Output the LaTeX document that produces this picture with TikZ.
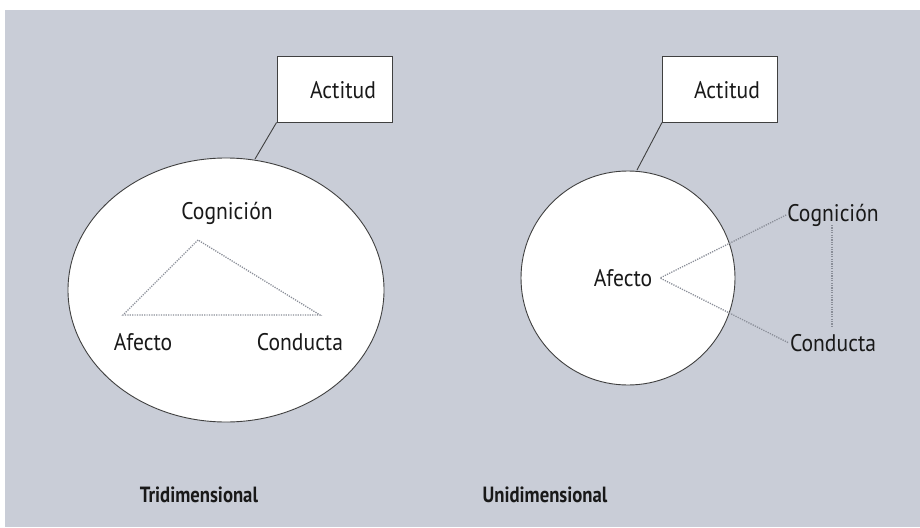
\documentclass[tikz,border=0pt]{standalone}
\usepackage{fontspec}
\setmainfont[FakeStretch=0.9]{PT Sans}
\newfontfamily\titlefont[FakeStretch=0.85]{PT Sans}
\definecolor{bggray}{HTML}{C9CDD7}
\definecolor{dotgray}{HTML}{8A8E98}
\begin{document}
\begin{tikzpicture}[x=1pt,y=-1pt,
  box/.style={draw=black!75,fill=white,line width=0.9pt,minimum width=115pt,minimum height=66pt,inner sep=0pt},
  lbl/.style={font=\fontsize{24}{28}\selectfont,text=black!90,inner sep=1pt},
  title/.style={font=\titlefont\fontsize{22}{26}\selectfont\bfseries,text=black!90},
  link/.style={draw=black!75,line width=0.9pt},
  dots/.style={draw=dotgray,dash pattern=on 1.2pt off 1.2pt,line width=1.3pt}]
\useasboundingbox (0,0) rectangle (920,527);
\fill[white] (0,0) rectangle (920,527);
\fill[bggray] (5,10) rectangle (920,527);
% left
\node[box] (boxL) at (334.5,89) {};
\node[lbl] (actL) at (343,90) {Actitud};
\draw[link,fill=white] (226,290) ellipse [x radius=158,y radius=132];
\coordinate (eL) at (255,159);
\draw[link] (boxL.south west) -- (eL);
\node[lbl] (cogL) at (227,213) {Cognición};
\node[lbl] (afeL) at (143,342) {Afecto};
\node[lbl] (conL) at (300,342) {Conducta};
\coordinate (tA) at (198,240);
\coordinate (tL) at (123,315);
\coordinate (tR) at (320,315);
\draw[dots] (tA) -- (tL) -- (tR) -- cycle;
% right
\node[box] (boxR) at (720,89) {};
\node[lbl] (actR) at (727,90) {Actitud};
\draw[link,fill=white] (628,278) circle [radius=107];
\coordinate (eR) at (637,170);
\draw[link] (boxR.south west) -- (eR);
\node[lbl] (afeR) at (623,278) {Afecto};
\node[lbl] (cogR) at (833,215) {Cognición};
\node[lbl] (conR) at (833,343) {Conducta};
\coordinate (aR) at (660,278);
\draw[dots] (cogR.west) -- (aR) -- (conR.west);
\draw[dots] (832,225) -- (832,327);
% titles
\node[title] (tri) at (199,495) {Tridimensional};
\node[title] (uni) at (545,495) {Unidimensional};
\end{tikzpicture}
\end{document}
